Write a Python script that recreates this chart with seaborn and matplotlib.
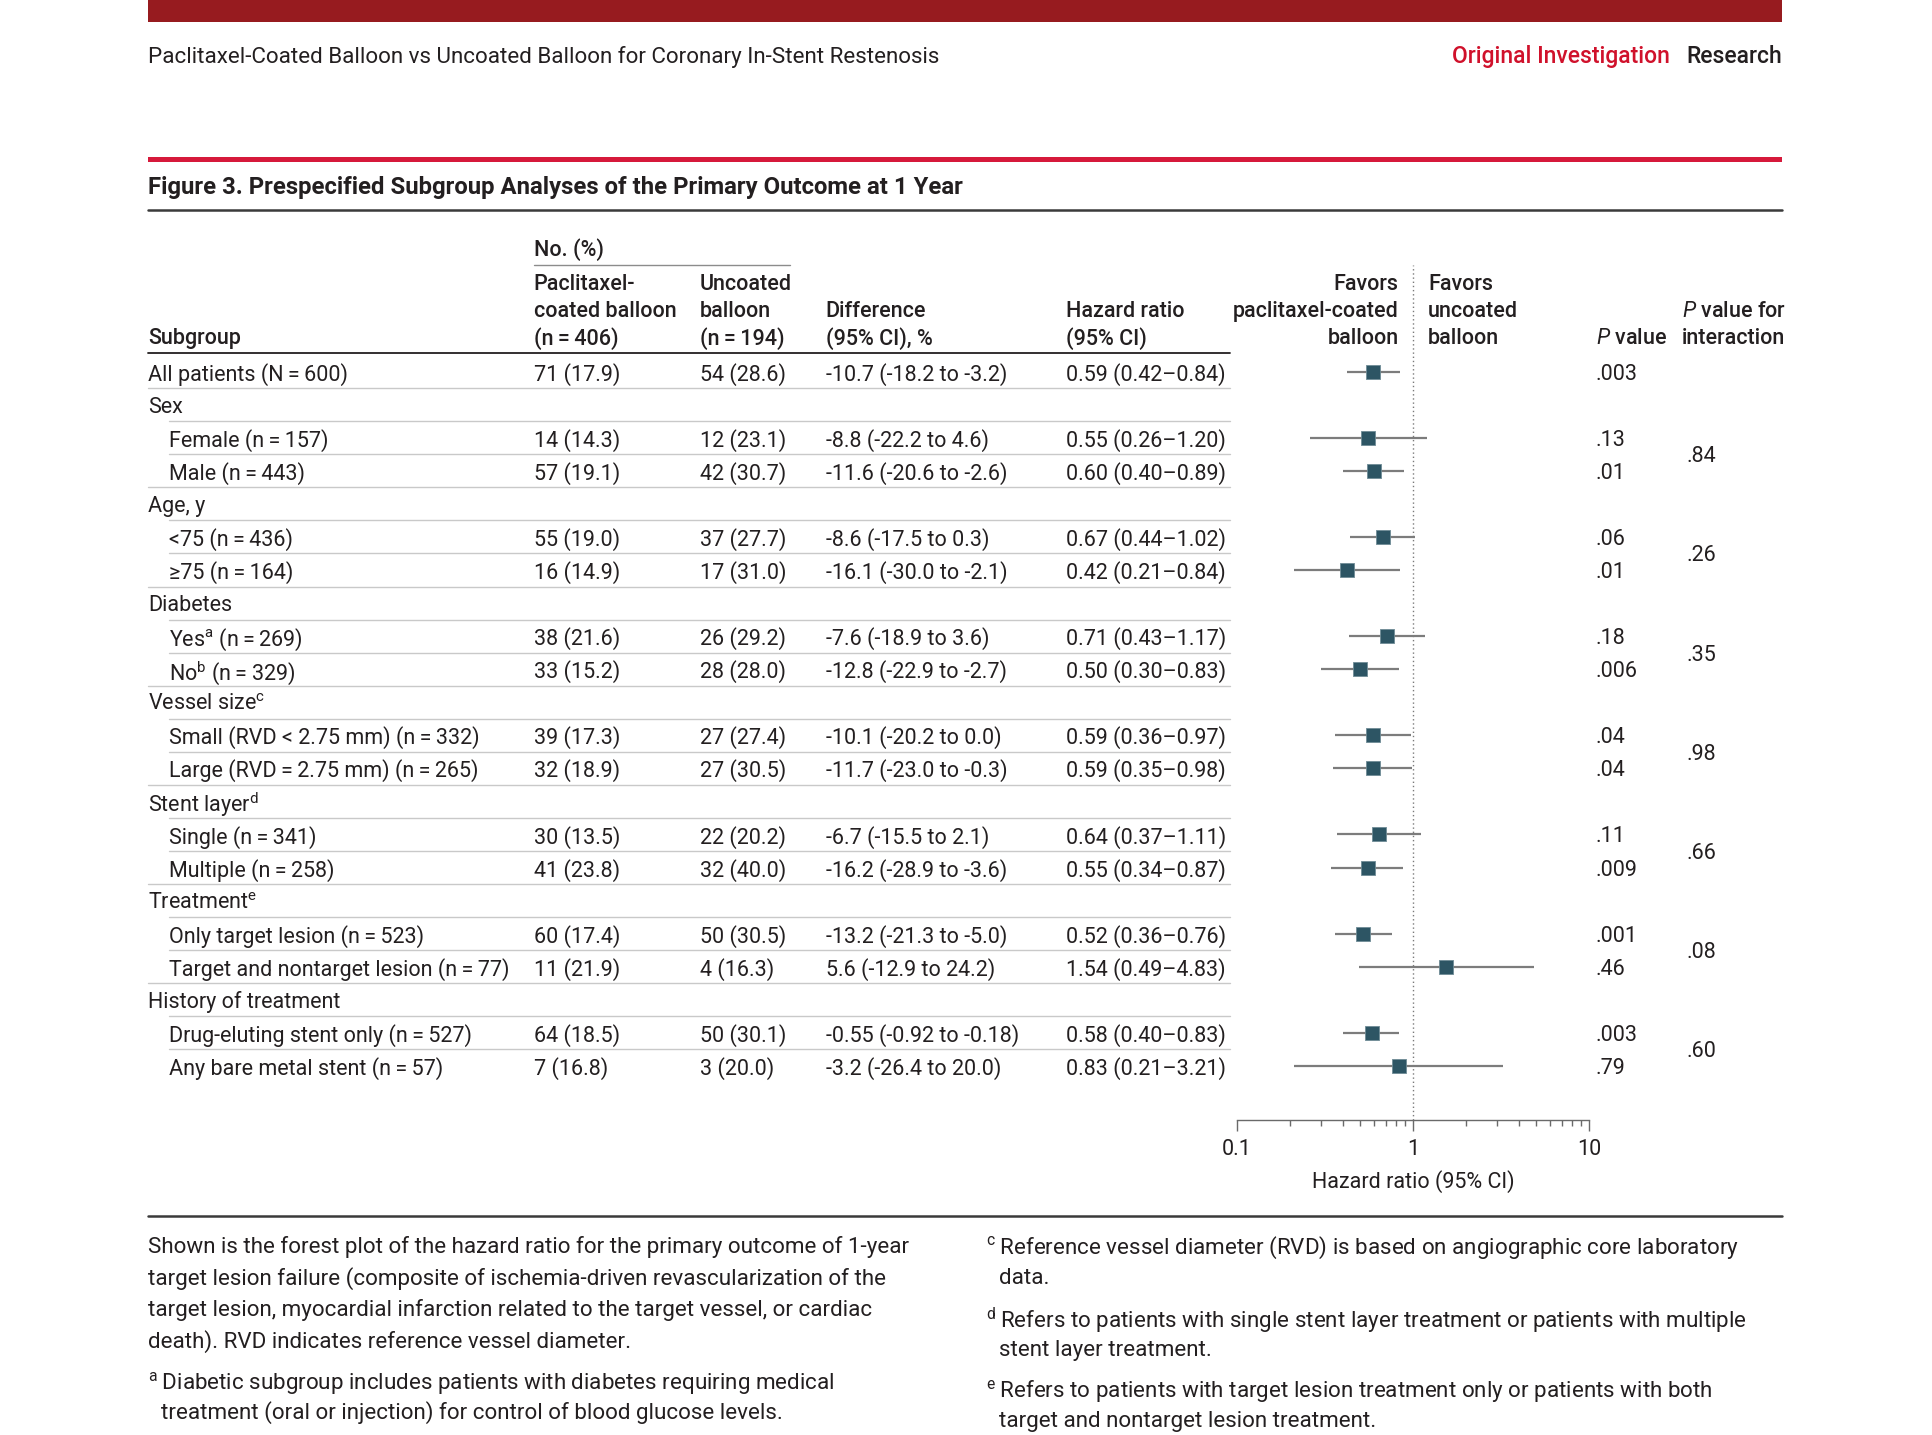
import matplotlib
matplotlib.use("Agg")
import matplotlib.pyplot as plt
import seaborn as sns
import pandas as pd
from matplotlib.patches import Rectangle
from matplotlib.ticker import FixedLocator, NullFormatter

# ---- data ----
labels = ["All patients (N\u2009=\u2009600)", "Sex", "Female (n\u2009=\u2009157)", "Male (n\u2009=\u2009443)",
          "Age, y", "<75 (n\u2009=\u2009436)", "\u226575 (n\u2009=\u2009164)", "Diabetes",
          "Yes$^{\\mathrm{a}}$ (n\u2009=\u2009269)", "No$^{\\mathrm{b}}$ (n\u2009=\u2009329)", "Vessel size$^{\\mathrm{c}}$",
          "Small (RVD < 2.75 mm) (n\u2009=\u2009332)", "Large (RVD\u2009=\u20092.75 mm) (n\u2009=\u2009265)",
          "Stent layer$^{\\mathrm{d}}$", "Single (n\u2009=\u2009341)", "Multiple (n\u2009=\u2009258)", "Treatment$^{\\mathrm{e}}$",
          "Only target lesion (n\u2009=\u2009523)", "Target and nontarget lesion (n\u2009=\u200977)",
          "History of treatment", "Drug-eluting stent only (n\u2009=\u2009527)", "Any bare metal stent (n\u2009=\u200957)"]
indent = [0, 0, 1, 1, 0, 1, 1, 0, 1, 1, 0, 1, 1, 0, 1, 1, 0, 1, 1, 0, 1, 1]
coated = ["71 (17.9)", None, "14 (14.3)", "57 (19.1)", None, "55 (19.0)", "16 (14.9)", None,
          "38 (21.6)", "33 (15.2)", None, "39 (17.3)", "32 (18.9)", None, "30 (13.5)", "41 (23.8)", None,
          "60 (17.4)", "11 (21.9)", None, "64 (18.5)", "7 (16.8)"]
uncoated = ["54 (28.6)", None, "12 (23.1)", "42 (30.7)", None, "37 (27.7)", "17 (31.0)", None,
            "26 (29.2)", "28 (28.0)", None, "27 (27.4)", "27 (30.5)", None, "22 (20.2)", "32 (40.0)", None,
            "50 (30.5)", "4 (16.3)", None, "50 (30.1)", "3 (20.0)"]
difference = ["-10.7 (-18.2 to -3.2)", None, "-8.8 (-22.2 to 4.6)", "-11.6 (-20.6 to -2.6)", None,
              "-8.6 (-17.5 to 0.3)", "-16.1 (-30.0 to -2.1)", None, "-7.6 (-18.9 to 3.6)",
              "-12.8 (-22.9 to -2.7)", None, "-10.1 (-20.2 to 0.0)", "-11.7 (-23.0 to -0.3)", None,
              "-6.7 (-15.5 to 2.1)", "-16.2 (-28.9 to -3.6)", None, "-13.2 (-21.3 to -5.0)",
              "5.6 (-12.9 to 24.2)", None, "-0.55 (-0.92 to -0.18)", "-3.2 (-26.4 to 20.0)"]
hr = [0.59, None, 0.55, 0.60, None, 0.67, 0.42, None, 0.71, 0.50, None, 0.59, 0.59, None,
      0.64, 0.55, None, 0.52, 1.54, None, 0.58, 0.83]
hr_lo = [0.42, None, 0.26, 0.40, None, 0.44, 0.21, None, 0.43, 0.30, None, 0.36, 0.35, None,
         0.37, 0.34, None, 0.36, 0.49, None, 0.40, 0.21]
hr_hi = [0.84, None, 1.20, 0.89, None, 1.02, 0.84, None, 1.17, 0.83, None, 0.97, 0.98, None,
         1.11, 0.87, None, 0.76, 4.83, None, 0.83, 3.21]
p_value = [".003", None, ".13", ".01", None, ".06", ".01", None, ".18", ".006", None, ".04", ".04", None,
           ".11", ".009", None, ".001", ".46", None, ".003", ".79"]
p_interaction = [".84", ".26", ".35", ".98", ".66", ".08", ".60"]

footnote_left = ["Shown is the forest plot of the hazard ratio for the primary outcome of 1-year",
                 "target lesion failure (composite of ischemia-driven revascularization of the",
                 "target lesion, myocardial infarction related to the target vessel, or cardiac",
                 "death). RVD indicates reference vessel diameter."]

# ---- style ----
sns.set_theme(style="white")
plt.rcParams["font.family"] = ["Roboto", "DejaVu Sans"]
plt.rcParams["mathtext.fontset"] = "custom"
plt.rcParams["mathtext.rm"] = "Roboto"
plt.rcParams["mathtext.it"] = "Roboto:italic"
plt.rcParams["mathtext.bf"] = "Roboto:bold"

INK = "#231F20"
FS = 15.5
FN = 16.1
W, H = 1568, 1166          # page layout frame
y0, dy = 302, 26.86        # row centres

fig = plt.figure(figsize=(19.32, 14.35), dpi=100)
ax = fig.add_axes([0, 0, 1, 1])
ax.set_xlim(0, W)
ax.set_ylim(H, 0)
ax.axis("off")


def txt(x, y, s, **kw):
    kw.setdefault("fontsize", FS)
    kw.setdefault("color", INK)
    kw.setdefault("va", "center_baseline")
    ax.text(x, y, s, **kw)


# page header
ax.add_patch(Rectangle((120, 0), 1326, 18, color="#971B1F", lw=0))
txt(120, 44, "Paclitaxel-Coated Balloon vs Uncoated Balloon for Coronary In-Stent Restenosis", fontsize=16.1)
txt(1446, 44, "Research", ha="right", fontsize=16.5, fontweight="medium")
txt(1355, 44, "Original Investigation", ha="right", fontsize=16.5, fontweight="medium", color="#D0112B")
ax.add_patch(Rectangle((120, 127.5), 1326, 4.5, color="#D6193B", lw=0))
txt(120, 150, "Figure 3. Prespecified Subgroup Analyses of the Primary Outcome at 1 Year",
    fontsize=17.2, fontweight="bold")
ax.plot([120, 1446], [171, 171], color="#3A3A3A", lw=1.8)

# column headers
hw = dict(fontweight="medium")
txt(433, 201, "No. (%)", **hw)
ax.plot([433, 641], [215, 215], color="#8C8C8C", lw=1)
for i, s in enumerate(["Paclitaxel-", "coated balloon", "(n\u2009=\u2009406)"]):
    txt(433, 229 + 22 * i, s, **hw)
for i, s in enumerate(["Uncoated", "balloon", "(n\u2009=\u2009194)"]):
    txt(568, 229 + 22 * i, s, **hw)
for i, s in enumerate(["Difference", "(95% CI), %"]):
    txt(670, 251 + 22 * i, s, **hw)
for i, s in enumerate(["Hazard ratio", "(95% CI)"]):
    txt(865, 251 + 22 * i, s, **hw)
for i, s in enumerate(["Favors", "paclitaxel-coated", "balloon"]):
    txt(1135, 229 + 22 * i, s, ha="right", **hw)
for i, s in enumerate(["Favors", "uncoated", "balloon"]):
    txt(1159, 229 + 22 * i, s, **hw)
txt(1295, 273, "$\\mathit{P}$ value", **hw)
txt(1365, 251, "$\\mathit{P}$ value for", **hw)
txt(1365, 273, "interaction", **hw)
txt(120, 273, "Subgroup", **hw)
ax.plot([120, 998], [287, 287], color=INK, lw=1.3)

# table body
n = len(labels)
row_y = [y0 + dy * i for i in range(n)]
for i in range(n):
    y = row_y[i]
    txt(137 if indent[i] else 120, y, labels[i])
    if coated[i] is not None:
        txt(433, y, coated[i])
        txt(568, y, uncoated[i])
        txt(670, y, difference[i])
        txt(865, y, f"{hr[i]:.2f} ({hr_lo[i]:.2f}\u2013{hr_hi[i]:.2f})")
        txt(1295, y, p_value[i])
    if i < n - 1:
        nxt_header = coated[i + 1] is None
        ax.plot([120 if nxt_header else 137, 998], [y + dy / 2] * 2, color="#C9C9C9", lw=1)

groups = [i for i in range(n) if coated[i] is None]
for g, pv in zip(groups, p_interaction):
    txt(1369, (row_y[g + 1] + row_y[g + 2]) / 2, pv)

# forest plot
df = pd.DataFrame({"hr": hr, "lo": hr_lo, "hi": hr_hi, "y": row_y}).dropna()
axf = fig.add_axes([1004 / W, 1 - 910 / H, (1290 - 1004) / W, (910 - 215) / H])
axf.set_xscale("log")
axf.set_xlim(0.1, 10)
axf.set_ylim(910, 215)
axf.patch.set_alpha(0)
axf.axvline(1, color="#7A7A7A", ls=(0, (1, 2)), lw=1, zorder=1)
axf.hlines(df["y"], df["lo"], df["hi"], color="#7C7C7C", lw=1.6, zorder=2)
sns.scatterplot(data=df, x="hr", y="y", marker="s", s=90, color="#2D5564",
                edgecolor="#6F8C96", linewidth=0.6, zorder=3, legend=False, ax=axf)
for side in ["top", "left", "right"]:
    axf.spines[side].set_visible(False)
axf.spines["bottom"].set_color("#6A6A6A")
axf.spines["bottom"].set_linewidth(1)
axf.xaxis.set_major_locator(FixedLocator([0.1, 1, 10]))
axf.set_xticklabels(["0.1", "1", "10"])
axf.xaxis.set_minor_locator(FixedLocator([0.2, 0.3, 0.4, 0.5, 0.6, 0.7, 0.8, 0.9,
                                          2, 3, 4, 5, 6, 7, 8, 9]))
axf.xaxis.set_minor_formatter(NullFormatter())
axf.tick_params(axis="x", which="major", length=8, width=1, color="#6A6A6A",
                labelsize=FS, labelcolor=INK, pad=6, bottom=True)
axf.tick_params(axis="x", which="minor", length=4.5, width=1, color="#6A6A6A", bottom=True)
axf.set_yticks([])
axf.set_ylabel("")
axf.set_xlabel("Hazard ratio (95% CI)", fontsize=FS, color=INK, labelpad=7)

# footnotes
ax.plot([120, 1446], [988, 988], color="#3A3A3A", lw=1.8)
for i, s in enumerate(footnote_left):
    txt(120, 1011 + 25.7 * i, s, fontsize=FN)
txt(120, 1121, "$^{\\mathrm{a}}$\u2009Diabetic subgroup includes patients with diabetes requiring medical", fontsize=FN)
txt(131, 1146, "treatment (oral or injection) for control of blood glucose levels.", fontsize=FN)
txt(800, 1011, "$^{\\mathrm{c}}$\u2009Reference vessel diameter (RVD) is based on angiographic core laboratory",
    fontsize=FN)
txt(811, 1037, "data.", fontsize=FN)
txt(800, 1070, "$^{\\mathrm{d}}$\u2009Refers to patients with single stent layer treatment or patients with multiple",
    fontsize=FN)
txt(811, 1095, "stent layer treatment.", fontsize=FN)
txt(800, 1128, "$^{\\mathrm{e}}$\u2009Refers to patients with target lesion treatment only or patients with both",
    fontsize=FN)
txt(811, 1153, "target and nontarget lesion treatment.", fontsize=FN)

fig.savefig("out.png", dpi=100, facecolor="white")
